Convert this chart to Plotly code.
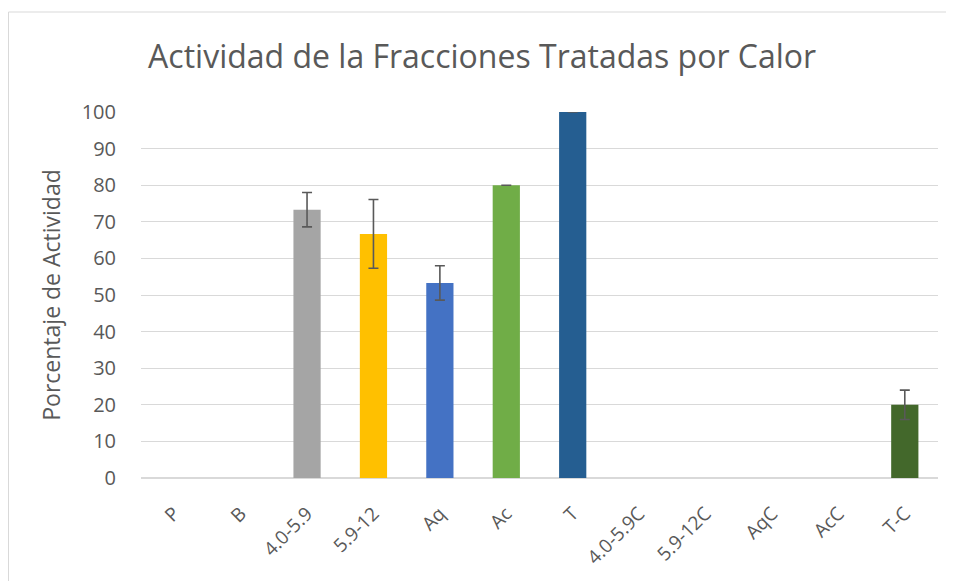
import plotly.graph_objects as go

categories = ["P", "B", "4.0-5.9", "5.9-12", "Aq", "Ac", "T", "4.0-5.9C", "5.9-12C", "AqC", "AcC", "T-C"]
values = [None, None, 73.3, 66.7, 53.3, 80, 100, None, None, None, None, 20]
errors = [None, None, 4.7, 9.4, 4.7, 0, None, None, None, None, None, 4]
colors = ["#A5A5A5", "#A5A5A5", "#A5A5A5", "#FFC000", "#4472C4", "#70AD47", "#255E91",
          "#A5A5A5", "#A5A5A5", "#A5A5A5", "#A5A5A5", "#43682B"]
yticks = list(range(0, 101, 10))

fig = go.Figure()
fig.add_trace(go.Bar(
    x=categories, y=values, marker=dict(color=colors, line=dict(width=0)),
    width=0.41,
    error_y=dict(type="data", array=errors, visible=True, color="#595959",
                 thickness=1.6, width=5),
))

font_family = "Open Sans, Liberation Sans, sans-serif"
fig.update_layout(
    width=954, height=581,
    margin=dict(l=133, r=24, t=104, b=111),
    paper_bgcolor="white", plot_bgcolor="white",
    showlegend=False,
    title=dict(text="Actividad de la Fracciones Tratadas por Calor",
               x=0.497, xref="container", xanchor="center",
               y=1 - 49 / 581, yref="container", yanchor="middle",
               font=dict(family=font_family, size=32, color="#595959")),
    xaxis=dict(type="category", categoryorder="array", categoryarray=categories,
               range=[-0.5, len(categories) - 0.5],
               tickangle=-45, showgrid=False, showline=False, automargin=False,
               tickfont=dict(family=font_family, size=19, color="#595959"),
               ticks="outside", ticklen=16, tickcolor="rgba(0,0,0,0)", zeroline=False),
    yaxis=dict(range=[0, 100], tickvals=yticks, showgrid=True, gridcolor="#D9D9D9",
               gridwidth=1, zeroline=True, zerolinecolor="#D9D9D9", zerolinewidth=1.5,
               tickfont=dict(family=font_family, size=20, color="#595959"),
               ticks="outside", ticklen=20, tickcolor="rgba(0,0,0,0)",
               title=dict(text="Porcentaje de Actividad", standoff=14,
                          font=dict(family=font_family, size=23, color="#595959"))),
    shapes=[dict(type="rect", xref="paper", yref="paper",
                 x0=(8.5 - 141) / 797, x1=1.2, y0=-0.6, y1=(478 - 12) / 366,
                 line=dict(color="#D9D9D9", width=1), fillcolor="rgba(0,0,0,0)",
                 layer="below")],
)

fig.write_html("out.html")
